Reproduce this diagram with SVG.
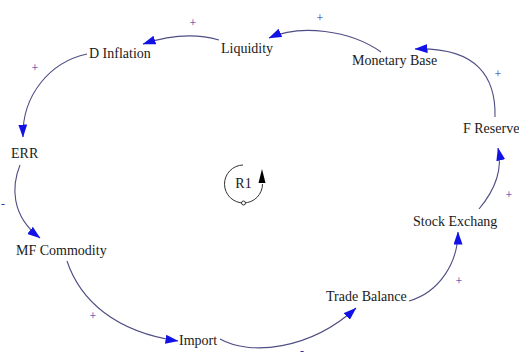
<svg xmlns="http://www.w3.org/2000/svg" width="519" height="358" viewBox="0 0 519 358">
<style>
.lbl{font-family:"Liberation Serif","Times New Roman",serif;font-size:14px;fill:#1a1a1a}
.pol{font-family:"Liberation Serif","Times New Roman",serif;font-size:12px;fill:#2c2ca8;text-anchor:middle}
.link{fill:none;stroke:#4e4e84;stroke-width:1.1}
</style>
<defs>
<marker id="ah" viewBox="0 0 13 9" refX="12.5" refY="4.5" markerWidth="13" markerHeight="9" markerUnits="userSpaceOnUse" orient="auto">
<path d="M0,0 L13,4.5 L0,9 Z" fill="#1212e6"/>
</marker>
</defs>
<rect width="519" height="358" fill="#ffffff"/>
<g id="connectors">
<path class="link" marker-end="url(#ah)" d="M219,40 Q185,30 143,44"/>
<path class="link" marker-end="url(#ah)" d="M381,52 C350,30 300,24 269,38"/>
<path class="link" marker-end="url(#ah)" d="M495,117 C496,78 478,47 415,49"/>
<path class="link" marker-end="url(#ah)" d="M479,209 C495,190 503,170 498,148"/>
<path class="link" marker-end="url(#ah)" d="M409,301 C440,292 458,262 458,232"/>
<path class="link" marker-end="url(#ah)" d="M220,339 C250,356 310,350 356,308"/>
<path class="link" marker-end="url(#ah)" d="M67,261 C80,300 115,332 178,341"/>
<path class="link" marker-end="url(#ah)" d="M20,165 C12,185 10,215 40,238"/>
<path class="link" marker-end="url(#ah)" d="M87,54 C50,62 22,95 23,137"/>
</g>
<g id="polarities">
<text class="pol" x="193" y="27">+</text>
<text class="pol" x="320" y="22">+</text>
<text class="pol" x="498" y="78">+</text>
<text class="pol" x="509" y="199">+</text>
<text class="pol" x="459" y="285">+</text>
<text class="pol" x="93" y="320">+</text>
<text class="pol" x="35" y="72">+</text>
<text class="pol" x="3" y="208">-</text>
<text class="pol" x="302" y="355">-</text>
</g>
<g id="n-liquidity"><text class="lbl" x="221" y="53">Liquidity</text></g>
<g id="n-dinflation"><text class="lbl" x="89" y="58">D Inflation</text></g>
<g id="n-monetarybase"><text class="lbl" x="352" y="65">Monetary Base</text></g>
<g id="n-freserve"><text class="lbl" x="463" y="133">F Reserve</text></g>
<g id="n-err"><text class="lbl" x="11" y="158">ERR</text></g>
<g id="n-mfcommodity"><text class="lbl" x="16" y="255">MF Commodity</text></g>
<g id="n-import"><text class="lbl" x="179" y="345">Import</text></g>
<g id="n-tradebalance"><text class="lbl" x="326" y="301">Trade Balance</text></g>
<g id="n-stockexchang"><text class="lbl" x="413" y="226">Stock Exchang</text></g>
<g id="loop-r1">
<path d="M243,165 A19,19 0 1,0 262.5,184" fill="none" stroke="#333" stroke-width="1"/>
<path d="M262,169 L265.5,183 L258.5,183 Z" fill="#000"/>
<circle cx="243.5" cy="203" r="2" fill="#fff" stroke="#333" stroke-width="1"/>
<text class="lbl" x="243.5" y="188" text-anchor="middle">R1</text>
</g>
</svg>
